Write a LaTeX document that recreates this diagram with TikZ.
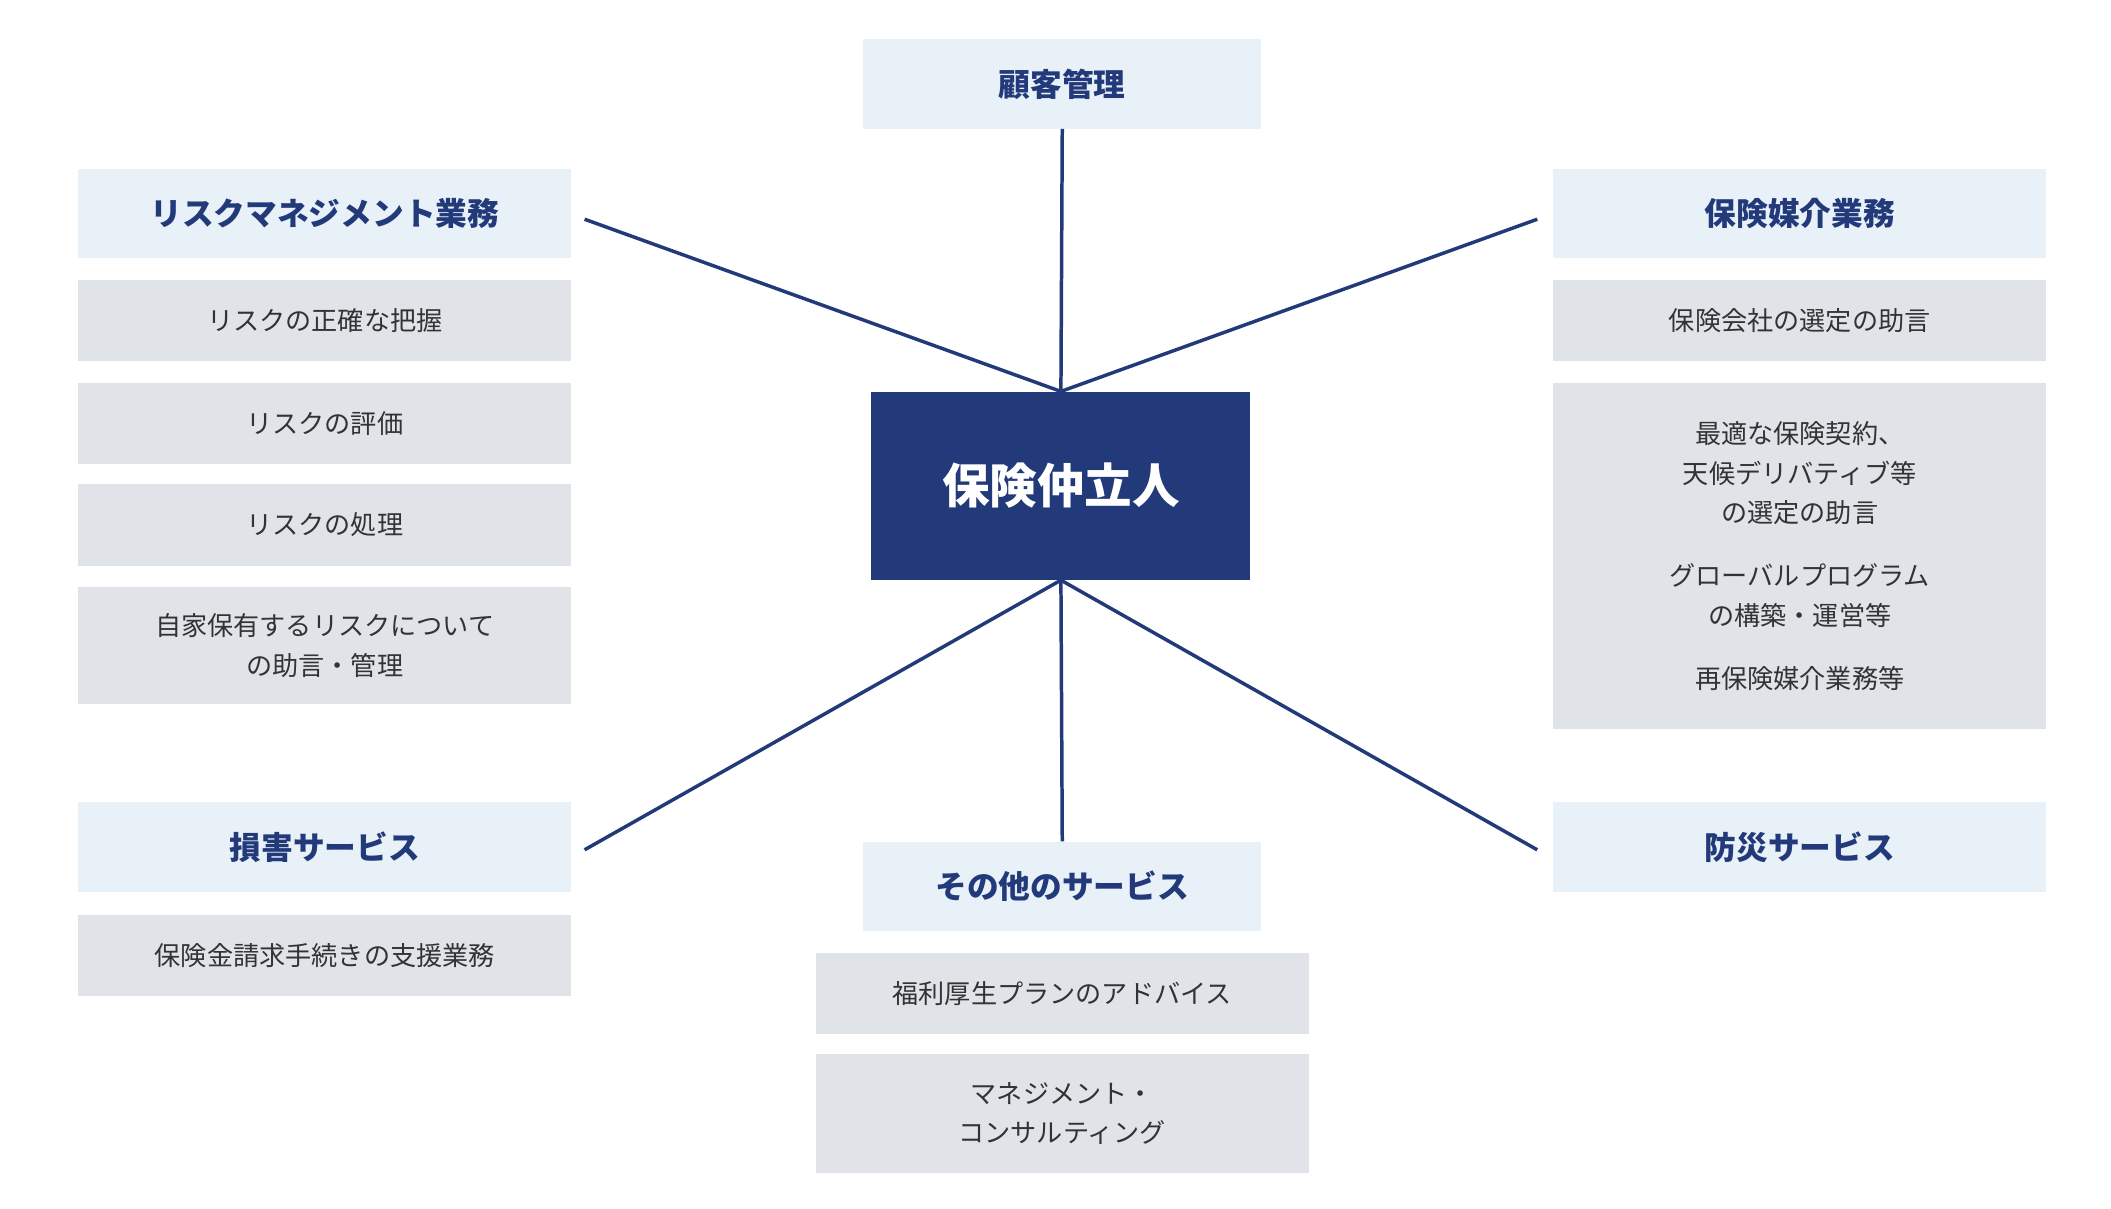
\documentclass[tikz,border=0pt]{standalone}
\usepackage{fontspec}
\setmainfont{Noto Sans CJK JP}
\usetikzlibrary{positioning}
\definecolor{navy}{HTML}{233A7A}
\definecolor{titlebg}{HTML}{E8F0F8}
\definecolor{itembg}{HTML}{E0E4E8}
\definecolor{itemtext}{HTML}{333333}
\tikzset{
  titlebox/.style={fill=titlebg, text=navy, font=\fontsize{20}{24}\selectfont\bfseries,
    minimum width=10.92cm, minimum height=1.98cm, inner sep=0pt},
  itembox/.style={fill=itembg, text=itemtext, font=\fontsize{16.5}{25}\selectfont,
    minimum width=10.92cm, minimum height=1.8cm, inner sep=0pt, align=center},
  hub/.style={fill=navy, text=white, font=\fontsize{30}{36}\selectfont\bfseries,
    minimum width=8.4cm, minimum height=4.17cm},
  spoke/.style={navy, line width=2.2pt}
}
\begin{document}
\begin{tikzpicture}[x=0.03cm, y=-0.03cm]
    \useasboundingbox (0,0) rectangle (1560,893);
    \node[hub]                                  (hub)    at (784,359)  {保険仲立人};
    \node[titlebox, minimum width=8.82cm]       (client) at (785,62)   {顧客管理};

    % left column
    \node[titlebox]                             (risk)   at (240,158)  {リスクマネジメント業務};
    \node[itembox]                              (risk1)  at (240,237)  {リスクの正確な把握};
    \node[itembox]                              (risk2)  at (240,313)  {リスクの評価};
    \node[itembox]                              (risk3)  at (240,388)  {リスクの処理};
    \node[itembox, minimum height=2.61cm]       (risk4)  at (240,477)  {自家保有するリスクについて\\の助言・管理};
    \node[titlebox]                             (claim)  at (240,626)  {損害サービス};
    \node[itembox]                              (claim1) at (240,706)  {保険金請求手続きの支援業務};

    % right column
    \node[titlebox]                             (broker) at (1330,158) {保険媒介業務};
    \node[itembox]                              (broker1) at (1330,237) {保険会社の選定の助言};
    \node[itembox, minimum height=7.68cm]       (broker2) at (1330,411)
        {最適な保険契約、\\天候デリバティブ等\\の選定の助言\\[0.9em]グローバルプログラム\\の構築・運営等\\[0.9em]再保険媒介業務等};
    \node[titlebox]                             (disaster) at (1330,626) {防災サービス};

    % bottom
    \node[titlebox, minimum width=8.82cm]       (other)  at (785,655)  {その他のサービス};
    \node[itembox]                              (other1) at (785,734)  {福利厚生プランのアドバイス};
    \node[itembox, minimum height=2.64cm]       (other2) at (785,823)  {マネジメント・\\コンサルティング};

    % spokes
    \coordinate (lt) at (432,162);
    \coordinate (rt) at (1136,162);
    \coordinate (lb) at (432,628);
    \coordinate (rb) at (1136,628);
    \draw[spoke] (hub.north) -- (client.south);
    \draw[spoke] (hub.north) -- (lt);
    \draw[spoke] (hub.north) -- (rt);
    \draw[spoke] (hub.south) -- (other.north);
    \draw[spoke] (hub.south) -- (lb);
    \draw[spoke] (hub.south) -- (rb);
\end{tikzpicture}
\end{document}
